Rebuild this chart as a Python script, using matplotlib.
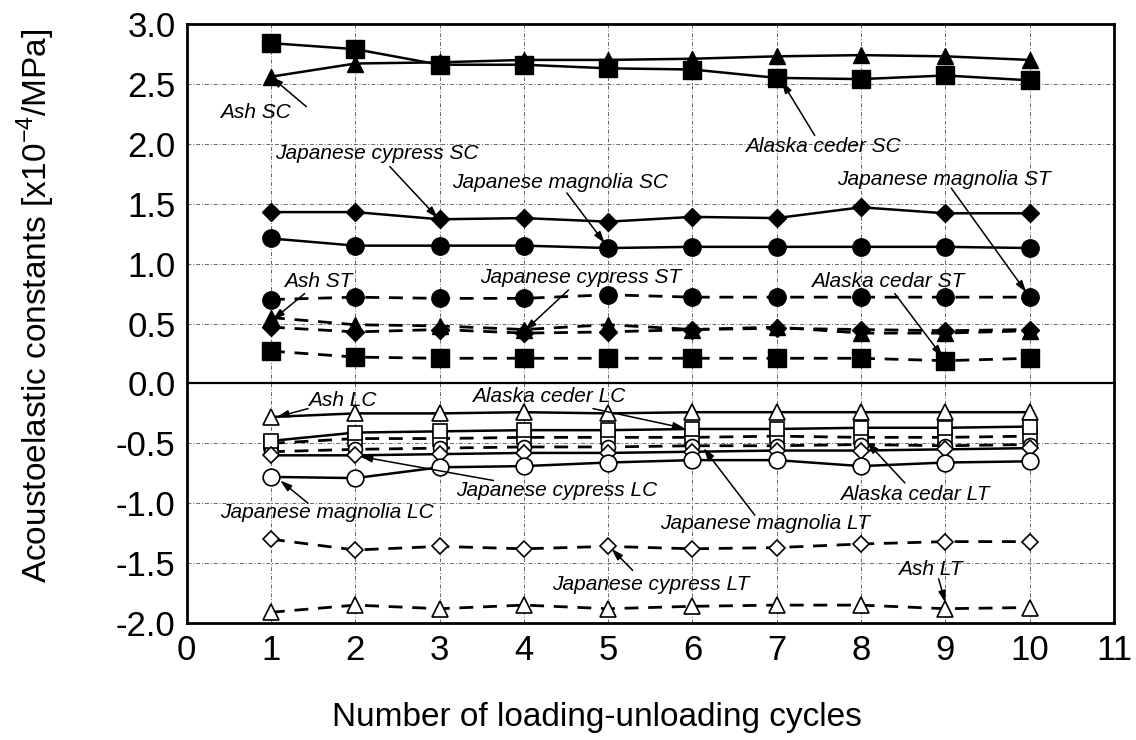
import matplotlib
matplotlib.use("Agg")
import matplotlib.pyplot as plt

plt.rcParams["font.family"] = ["Liberation Sans", "DejaVu Sans"]
plt.rcParams["mathtext.fontset"] = "custom"
plt.rcParams["mathtext.rm"] = "Liberation Sans"
plt.rcParams["axes.unicode_minus"] = False

cycles = [1, 2, 3, 4, 5, 6, 7, 8, 9, 10]

# S = compression/tension constants (filled), L = longitudinal (open)
ash_sc = [2.56, 2.67, 2.68, 2.70, 2.70, 2.71, 2.73, 2.74, 2.73, 2.70]
alaska_sc = [2.84, 2.79, 2.66, 2.66, 2.63, 2.62, 2.55, 2.54, 2.57, 2.53]
cypress_sc = [1.43, 1.43, 1.37, 1.38, 1.35, 1.39, 1.38, 1.47, 1.42, 1.42]
magnolia_sc = [1.21, 1.15, 1.15, 1.15, 1.13, 1.14, 1.14, 1.14, 1.14, 1.13]

magnolia_st = [0.70, 0.72, 0.71, 0.71, 0.74, 0.72, 0.72, 0.72, 0.72, 0.72]
ash_st = [0.55, 0.49, 0.48, 0.45, 0.49, 0.45, 0.47, 0.42, 0.42, 0.44]
cypress_st = [0.47, 0.43, 0.45, 0.42, 0.43, 0.45, 0.46, 0.45, 0.44, 0.45]
alaska_st = [0.27, 0.22, 0.21, 0.21, 0.21, 0.21, 0.21, 0.21, 0.19, 0.21]

ash_lc = [-0.28, -0.25, -0.25, -0.24, -0.25, -0.24, -0.24, -0.24, -0.24, -0.24]
alaska_lc = [-0.48, -0.41, -0.40, -0.39, -0.39, -0.38, -0.38, -0.37, -0.37, -0.36]
cypress_lc = [-0.60, -0.60, -0.59, -0.58, -0.58, -0.57, -0.56, -0.56, -0.55, -0.54]
magnolia_lc = [-0.78, -0.79, -0.70, -0.69, -0.66, -0.64, -0.64, -0.69, -0.66, -0.65]

alaska_lt = [-0.50, -0.46, -0.46, -0.45, -0.45, -0.45, -0.44, -0.45, -0.45, -0.44]
magnolia_lt = [-0.57, -0.55, -0.54, -0.53, -0.53, -0.52, -0.52, -0.51, -0.52, -0.51]
cypress_lt = [-1.30, -1.39, -1.36, -1.38, -1.36, -1.38, -1.37, -1.34, -1.32, -1.32]
ash_lt = [-1.91, -1.85, -1.88, -1.85, -1.88, -1.86, -1.85, -1.85, -1.88, -1.87]

fig = plt.figure(figsize=(11.36, 7.40), dpi=100)
ax = fig.add_axes([0.1643, 0.158, 0.8163, 0.8096])

dash = (0, (5, 3.5))
filled = dict(color="black", markerfacecolor="black", markeredgecolor="black", zorder=4)
hollow = dict(color="black", markerfacecolor="white", markeredgecolor="black",
              markeredgewidth=1.2, zorder=4)

# solid lines, filled markers
ax.plot(cycles, ash_sc, marker="^", ms=12, lw=1.8, **filled)
ax.plot(cycles, alaska_sc, marker="s", ms=12.5, lw=1.8, **filled)
ax.plot(cycles, cypress_sc, marker="D", ms=9, lw=1.8, **filled)
ax.plot(cycles, magnolia_sc, marker="o", ms=12.5, lw=1.8, **filled)

# dashed lines, filled markers
ax.plot(cycles, magnolia_st, marker="o", ms=12.5, lw=2, ls=dash, **filled)
ax.plot(cycles, ash_st, marker="^", ms=12, lw=2, ls=dash, **filled)
ax.plot(cycles, cypress_st, marker="D", ms=9, lw=2, ls=dash, **filled)
ax.plot(cycles, alaska_st, marker="s", ms=12.5, lw=2, ls=dash, **filled)

# open markers
ax.plot(cycles, alaska_lt, marker="s", ms=10, lw=2, ls=dash, **hollow)
ax.plot(cycles, magnolia_lt, marker="o", ms=10, lw=2, ls=dash, **hollow)
ax.plot(cycles, cypress_lt, marker="D", ms=8, lw=2, ls=dash, **hollow)
ax.plot(cycles, ash_lt, marker="^", ms=11, lw=2, ls=dash, **hollow)
ax.plot(cycles, ash_lc, marker="^", ms=11, lw=1.8, **hollow)
ax.plot(cycles, alaska_lc, marker="s", ms=10, lw=1.8, **hollow)
ax.plot(cycles, cypress_lc, marker="D", ms=8, lw=1.8, **hollow)
ax.plot(cycles, magnolia_lc, marker="o", ms=12, lw=1.8, **hollow)

ax.axhline(0, color="black", lw=1.6, zorder=3)

ax.set_xlim(0, 11)
ax.set_ylim(-2.0, 3.0)
ax.set_xticks(range(0, 12))
ax.set_yticks([-2.0, -1.5, -1.0, -0.5, 0.0, 0.5, 1.0, 1.5, 2.0, 2.5, 3.0])
ax.yaxis.set_major_formatter(matplotlib.ticker.FormatStrFormatter("%.1f"))
ax.tick_params(length=0, labelsize=25, pad=8)
ax.grid(True, color="0.4", lw=0.7, ls=(0, (4, 2, 1, 2)))
for s in ax.spines.values():
    s.set_linewidth(2)

ax.set_xlabel("Number of loading-unloading cycles", fontsize=24)
ax.set_ylabel(r"Acoustoelastic constants [x10$^{-4}$/MPa]", fontsize=24)
ax.xaxis.set_label_coords(0.4425, -0.132)
ax.yaxis.set_label_coords(-0.14, 0.53)

arrow = dict(arrowstyle="-|>,head_length=0.7,head_width=0.22", color="black", lw=1.1,
             shrinkA=0, shrinkB=0)
notes = [
    ("Ash SC", (0.81, 2.26), (1.42, 2.31), (1.0, 2.56)),
    ("Japanese cypress SC", (2.25, 1.92), (2.41, 1.81), (2.98, 1.38)),
    ("Japanese magnolia SC", (4.43, 1.68), (4.51, 1.59), (4.96, 1.17)),
    ("Alaska ceder SC", (7.55, 1.98), (7.45, 2.07), (7.06, 2.52)),
    ("Japanese magnolia ST", (8.98, 1.70), (9.07, 1.63), (9.96, 0.76)),
    ("Ash ST", (1.56, 0.85), (1.40, 0.75), (1.02, 0.53)),
    ("Japanese cypress ST", (4.67, 0.88), (4.53, 0.78), (4.01, 0.44)),
    ("Alaska cedar ST", (8.31, 0.85), (8.40, 0.75), (8.97, 0.22)),
    ("Ash LC", (1.85, -0.14), (1.44, -0.21), (1.07, -0.28)),
    ("Alaska ceder LC", (4.30, -0.11), (4.82, -0.21), (5.91, -0.375)),
    ("Japanese cypress LC", (4.39, -0.89), (3.64, -0.81), (2.06, -0.61)),
    ("Japanese magnolia LC", (1.66, -1.08), (1.44, -1.00), (1.11, -0.81)),
    ("Japanese magnolia LT", (6.86, -1.17), (6.74, -1.10), (6.13, -0.54)),
    ("Alaska cedar LT", (8.64, -0.93), (8.52, -0.83), (8.07, -0.49)),
    ("Japanese cypress LT", (5.51, -1.68), (5.29, -1.56), (5.04, -1.38)),
    ("Ash LT", (8.82, -1.55), (8.92, -1.63), (9.0, -1.83)),
]
for label, pos, tail, head in notes:
    ax.text(pos[0], pos[1], label, fontsize=15, style="italic",
            ha="center", va="center", zorder=6)
    ax.annotate("", xy=head, xytext=tail, arrowprops=arrow, zorder=6)

plt.savefig("out.png", dpi=100)
